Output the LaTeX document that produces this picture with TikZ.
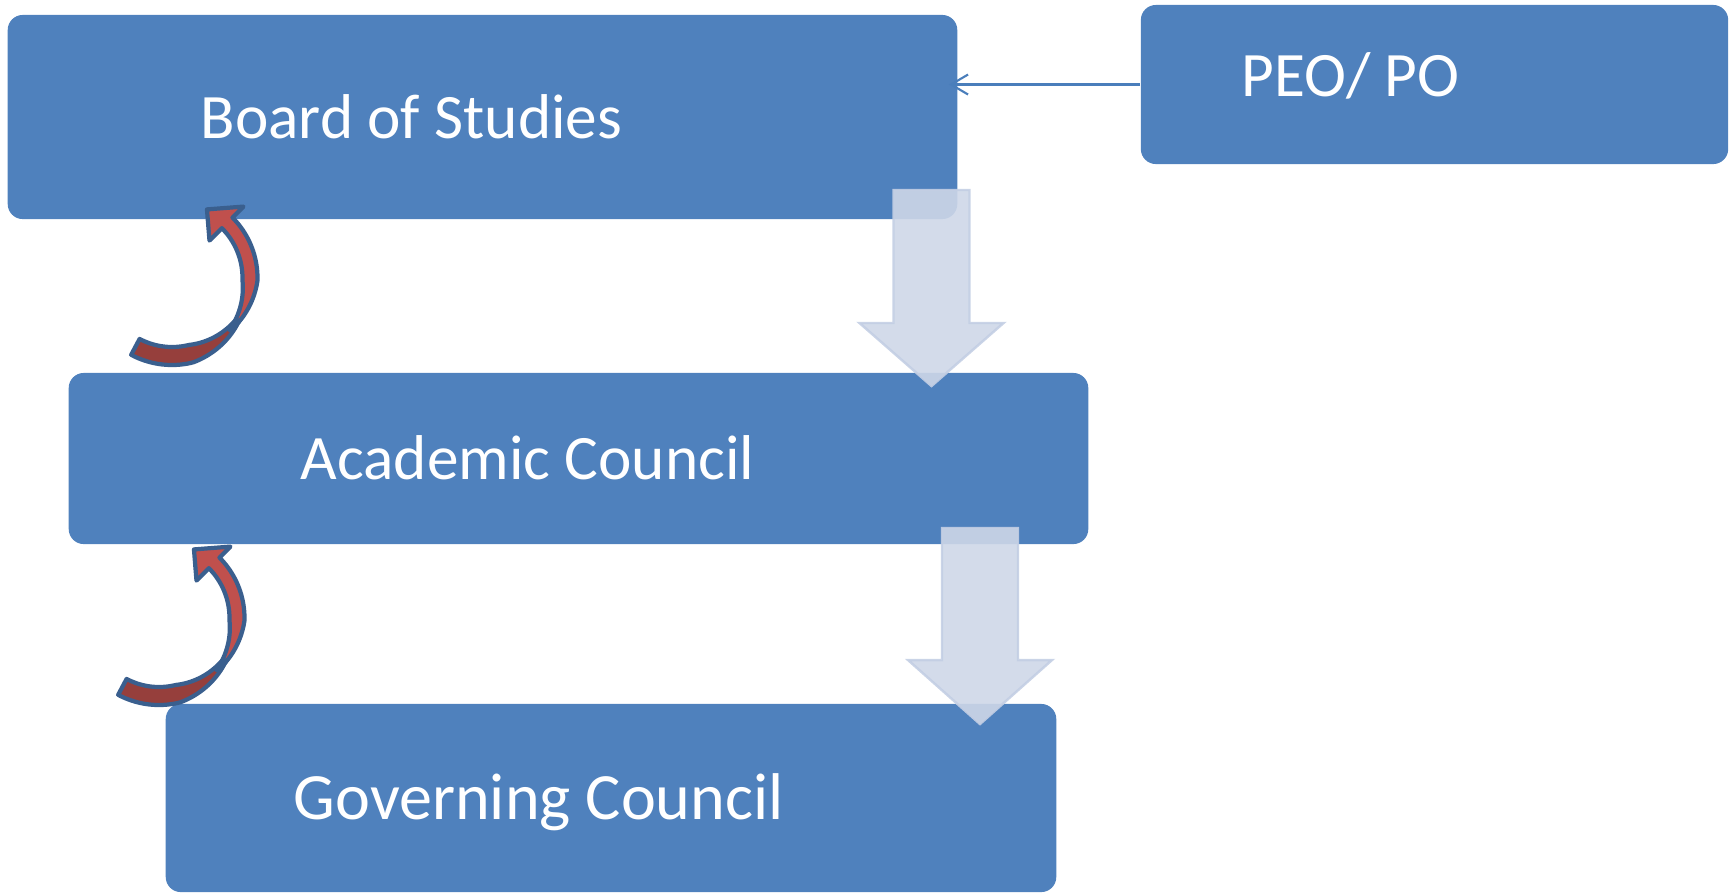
\documentclass[tikz,border=0pt]{standalone}
\usepackage{fontspec}
\setmainfont{Carlito}
\usetikzlibrary{arrows.meta}
\definecolor{boxblue}{HTML}{4F81BD}
\definecolor{linkblue}{HTML}{4A7EBB}
\definecolor{shadeblue}{HTML}{CED7E8}
\definecolor{rimblue}{HTML}{C4CFE4}
\definecolor{ribbonred}{HTML}{C0504D}
\definecolor{ribbondark}{HTML}{963F3C}
\definecolor{ribbonrim}{HTML}{3A5F8E}
\tikzset{
	ribbon/.style={draw=ribbonrim,line width=1.2pt,line join=round},
	twistarrow/.pic={
		\filldraw[ribbon,fill=ribbondark]
			plot[domain=242:334,samples=40] (\x:{78+0.5*(1+17*min(1,(334-\x)/50))})
			-- plot[domain=334:242,samples=40] (\x:{78-0.5*(1+17*min(1,(334-\x)/50))}) -- cycle;
		\filldraw[ribbon,fill=ribbonred]
			plot[domain=318:405,samples=40] (\x:{78+0.5*(1+14*min(1,(\x-318)/40))})
			-- (405:101) -- (423:77) -- (405:53)
			-- plot[domain=405:318,samples=40] (\x:{78-0.5*(1+14*min(1,(\x-318)/40))}) -- cycle;
	}
}
\begin{document}
\begin{tikzpicture}[x=0.01cm,y=0.01cm,
	box/.style={fill=boxblue,rounded corners=0.15cm,inner sep=0pt},
	boxtext/.style={text=white,anchor=base west,inner sep=0pt,font=\fontsize{18}{22}\selectfont},
	link/.style={linkblue,line width=0.6pt,-{Straight Barb[length=1.7mm,width=2mm]},shorten >=-0.9mm},
	bigarrow/.style={fill=shadeblue,fill opacity=0.9,draw=rimblue,draw opacity=0.9,line width=0.7pt}]
	\useasboundingbox (0,0) rectangle (1734,-893);
	\node[box,minimum width=9.49cm,minimum height=2.04cm] (bos) at (482.5,-117) {};
	\node[box,minimum width=5.87cm,minimum height=1.59cm] (peo) at (1434.5,-84.5) {};
	\node[box,minimum width=10.19cm,minimum height=1.71cm] (ac) at (578.5,-458.5) {};
	\node[box,minimum width=8.90cm,minimum height=1.88cm] (gc) at (611,-798) {};
	
	\node[boxtext] (bostext) at (200,-138) {Board of Studies};
	\node[boxtext] (peotext) at (1241,-96) {PEO/ PO};
	\node[boxtext] (actext) at (300,-479) {Academic Council};
	\node[boxtext,font=\fontsize{18.8}{22}\selectfont] (gctext) at (293,-819) {Governing Council};
	
	\draw[link] (peo.west) -- (bos.east |- peo.west);
	
	\foreach \cx/\ty/\hy/\by in {931.5/190/323/386,980/528/660/724}
		\filldraw[bigarrow] ({\cx-38},-\ty) -- ({\cx+38},-\ty) -- ({\cx+38},-\hy) -- ({\cx+72},-\hy)
			-- (\cx,-\by) -- ({\cx-72},-\hy) -- ({\cx-38},-\hy) -- cycle;
	
	\pic at (172,-278) {twistarrow};
	\pic at (159,-618) {twistarrow};
\end{tikzpicture}
\end{document}
